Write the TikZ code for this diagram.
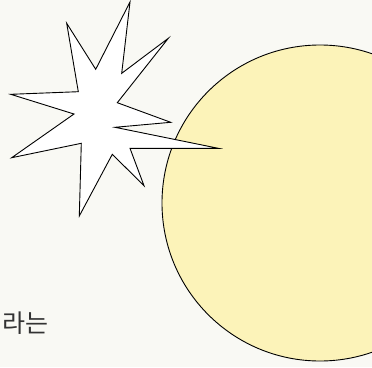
\documentclass[tikz,border=0pt]{standalone}
\usepackage{fontspec}
\newfontfamily\krfont{Noto Sans CJK KR}
\usepackage{xcolor}
\definecolor{PaperWhite}{HTML}{F9F9F4}
\definecolor{SunYellow}{HTML}{FCF3B9}
\definecolor{InkGray}{HTML}{333333}
\usepackage{tikz}

\begin{document}
\begin{tikzpicture}[x=1pt,y=-1pt,
  outline/.style={draw=black,line width=0.9pt,line join=miter},
  label/.style={font=\krfont\fontsize{25}{29}\selectfont,text=InkGray,inner sep=0pt,anchor=west}
]
  \fill[PaperWhite] (0,0) rectangle (372,367);
  \useasboundingbox (0,0) rectangle (372,367);
  % sun disc
  \draw[outline,fill=SunYellow] (320,203) circle[radius=158];
  % burst
  \draw[outline,fill=white] (130,2) -- (121.7,73.3) -- (168.3,38.3) -- (117.3,102.7)
    -- (170.7,122.3) -- (115,127.3) -- (218.3,148.3) -- (130,148.3) -- (144,185.7)
    -- (112.3,154.3) -- (79.3,216) -- (81.3,143.3) -- (11.7,157.7) -- (74,114)
    -- (10.7,94.3) -- (78.3,91.7) -- (66.7,23.3) -- (95.7,69.3) -- cycle;
  \node[label] (word) at (2,323.5) {라는};
\end{tikzpicture}
\end{document}
